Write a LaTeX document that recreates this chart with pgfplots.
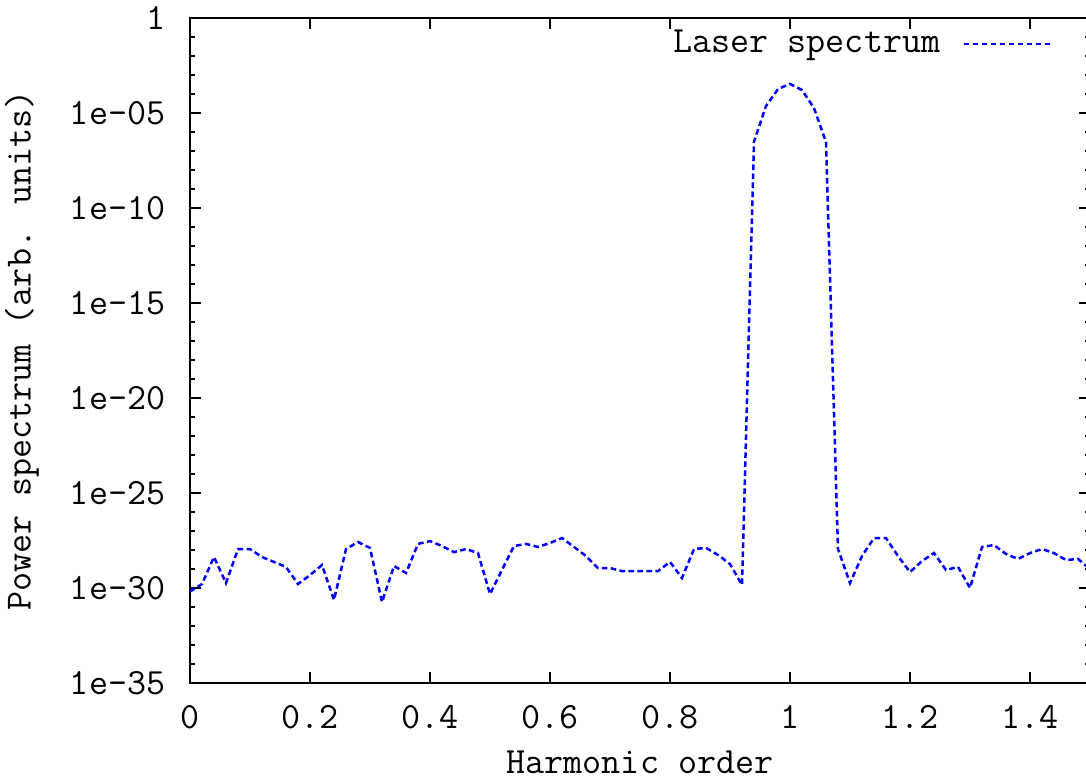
\documentclass[border=0pt]{standalone}
\usepackage{pgfplots}
\pgfplotsset{compat=1.18}
\pgfplotstableread{
x y
0.00 6.46e-31
0.02 1.62e-30
0.04 4.27e-29
0.06 1.82e-30
0.08 1.12e-28
0.10 1.12e-28
0.12 4.27e-29
0.14 2.34e-29
0.16 1.29e-29
0.18 1.62e-30
0.20 4.79e-30
0.22 1.62e-29
0.24 2.34e-31
0.26 1.12e-28
0.28 2.63e-28
0.30 1.29e-28
0.32 1.82e-31
0.34 1.45e-29
0.36 6.17e-30
0.38 2.09e-28
0.40 2.95e-28
0.42 1.62e-28
0.44 7.76e-29
0.46 1.12e-28
0.48 6.92e-29
0.50 4.79e-31
0.52 8.91e-30
0.54 1.62e-28
0.56 2.09e-28
0.58 1.45e-28
0.60 2.34e-28
0.62 4.27e-28
0.64 1.45e-28
0.66 4.79e-29
0.68 1.12e-29
0.70 1.12e-29
0.72 7.76e-30
0.74 7.76e-30
0.76 7.76e-30
0.78 7.76e-30
0.80 2.34e-29
0.82 3.39e-30
0.84 1.12e-28
0.86 1.29e-28
0.88 5.50e-29
0.90 1.82e-29
0.92 1.45e-30
0.94 3.09e-7
0.96 2.34e-5
0.98 1.82e-4
1.00 3.39e-4
1.02 1.62e-4
1.04 1.82e-5
1.06 2.95e-7
1.08 1.12e-28
1.10 1.82e-30
1.12 4.79e-29
1.14 4.27e-28
1.16 4.27e-28
1.18 4.79e-29
1.20 6.92e-30
1.22 2.63e-29
1.24 6.92e-29
1.26 8.91e-30
1.28 1.29e-29
1.30 1.00e-30
1.32 1.45e-28
1.34 1.82e-28
1.36 6.17e-29
1.38 3.39e-29
1.40 6.92e-29
1.42 1.12e-28
1.44 6.92e-29
1.46 2.95e-29
1.48 3.39e-29
1.50 1.00e-29
}\spectrum
\begin{document}
\ttfamily\fontsize{18.5}{21}\selectfont
\begin{tikzpicture}
\useasboundingbox (-95pt,-48.5pt) rectangle (448pt,341.5pt);
\begin{axis}[
  at={(0,0)}, anchor=south west,
  scale only axis, width=450pt, height=332.5pt,
  xmin=0, xmax=1.5, ymode=log, ymin=1e-35, ymax=1,
  xtick={0,0.2,0.4,0.6,0.8,1,1.2,1.4},
  xticklabels={0,0.2,0.4,0.6,0.8,1,1.2,1.4},
  ytick={1e-35,1e-30,1e-25,1e-20,1e-15,1e-10,1e-5,1},
  yticklabels={1e-35,1e-30,1e-25,1e-20,1e-15,1e-10,1e-05,1},
  minor ytick={1e-1,1e-2,1e-3,1e-4,1e-6,1e-7,1e-8,1e-9,1e-11,1e-12,1e-13,1e-14,1e-16,1e-17,1e-18,1e-19,1e-21,1e-22,1e-23,1e-24,1e-26,1e-27,1e-28,1e-29,1e-31,1e-32,1e-33,1e-34},
  tick align=inside,
  major tick length=5.5pt, minor tick length=2.75pt,
  tick style={black, line width=0.9pt},
  axis line style={black, line width=1pt},
  xticklabel style={yshift=-5pt},
  yticklabel style={xshift=-6pt},
  every axis x label/.style={at={(axis description cs:0.5,0)}, yshift=-39.5pt, anchor=center},
  every axis y label/.style={at={(axis description cs:0,0.5)}, xshift=-84pt, rotate=90, anchor=center},
  xlabel={Harmonic order},
  ylabel={Power spectrum (arb. units)},
  legend style={draw=none, fill=none, at={(rel axis cs:0.958,0.961)}, anchor=east, inner sep=0pt},
  legend cell align=right,
  legend plot pos=right,
  legend image code/.code={\draw[#1] (0pt,0pt) -- (43.5pt,0pt);},
]
\addplot[blue, line width=1.25pt, dash pattern=on 2.8pt off 1.7pt] table[x=x,y=y] {\spectrum};
\addlegendentry{Laser spectrum\hspace*{9pt}}
\end{axis}
\end{tikzpicture}
\end{document}
